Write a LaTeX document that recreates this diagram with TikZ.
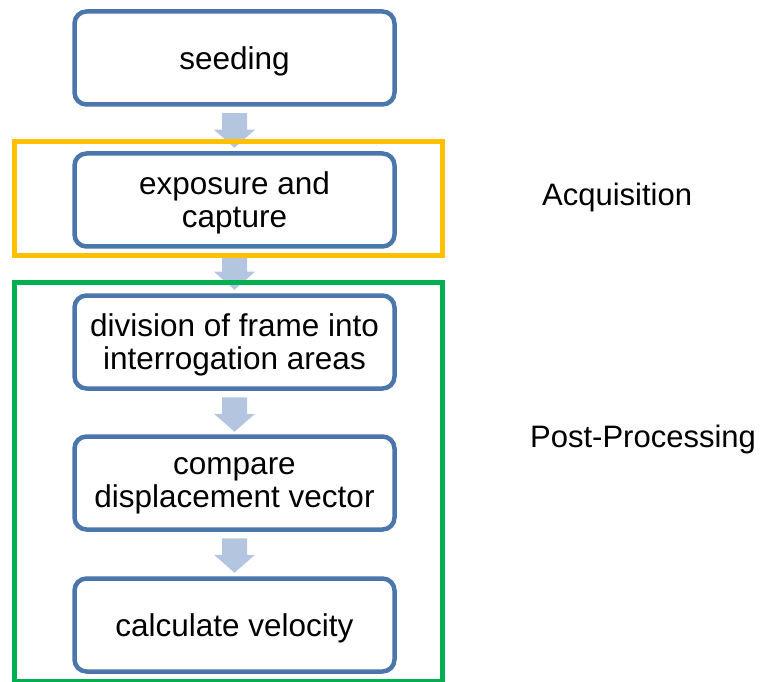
\documentclass[tikz,border=0pt]{standalone}
\usepackage{fontspec}
\setmainfont{Liberation Sans}
\definecolor{boxblue}{RGB}{74,118,172}
\definecolor{arrowfill}{RGB}{180,197,224}
\definecolor{acqorange}{RGB}{255,192,0}
\definecolor{postgreen}{RGB}{0,176,80}
\begin{document}
\begin{tikzpicture}[x=1pt,y=1pt,
  stepbox/.style={draw=boxblue, line width=4.5pt, rounded corners=12pt, fill=white,
    minimum width=320pt, minimum height=93pt, inner sep=0pt, align=center,
    text depth=0pt, font=\fontsize{31.5}{33}\selectfont},
  groupframe/.style={line width=5pt},
  sidelabel/.style={anchor=base west, inner sep=0pt, font=\fontsize{31}{33}\selectfont},
  blockarrow/.pic={\fill[arrowfill] (-12.5,0) -- (12.5,0) -- (12.5,-16.5) -- (20.5,-16.5)
    -- (0,-34.5) -- (-20.5,-16.5) -- (-12.5,-16.5) -- cycle;}]
\useasboundingbox (0,0) rectangle (764,-682);
% steps
\node[stepbox] (seed) at (234.5,-58) {seeding};
\node[stepbox] (expo) at (234.5,-200) {exposure and\\capture};
\node[stepbox] (div)  at (234.5,-342) {division of frame into\\interrogation areas};
\node[stepbox] (comp) at (234.5,-483) {compare\\displacement vector};
\node[stepbox] (calc) at (234.5,-625) {calculate velocity};
% block arrows
\pic at ([yshift=-6.5pt]seed.south) {blockarrow};
\pic at ([yshift=-6.5pt]expo.south) {blockarrow};
\pic at ([yshift=-6.5pt]div.south)  {blockarrow};
\pic at ([yshift=-6.5pt]comp.south) {blockarrow};
% group frames
\draw[acqorange, groupframe] (14.5,-141.5) rectangle (442.5,-255.5);
\draw[postgreen, groupframe] (14.5,-282.5) rectangle (442.5,-681);
% labels
\node[sidelabel] (acq)  at (542,-206) {Acquisition};
\node[sidelabel] (post) at (530,-447) {Post-Processing};
\end{tikzpicture}
\end{document}
